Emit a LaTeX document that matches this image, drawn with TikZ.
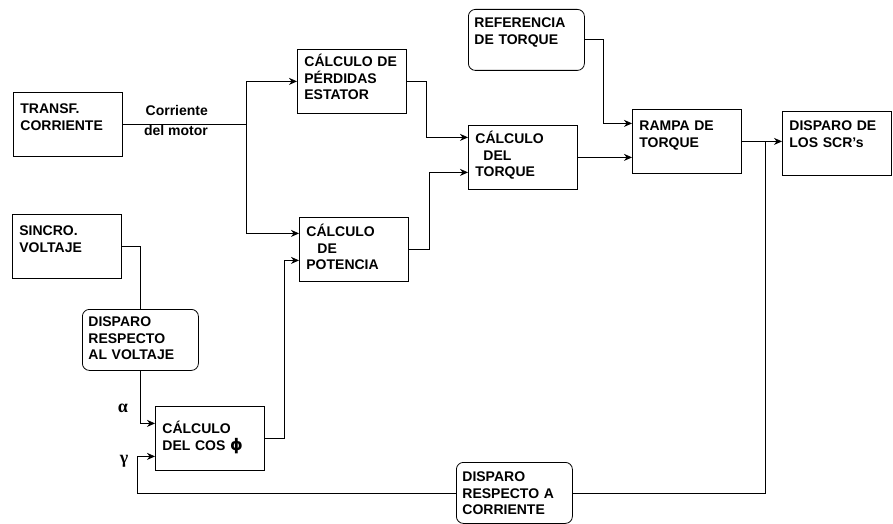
\documentclass[tikz,border=0pt]{standalone}
\usepackage{fontspec}
\setmainfont{Liberation Sans}
\newfontfamily\griego{Liberation Serif}
\newfontfamily\simbolo{DejaVu Sans}
\usetikzlibrary{arrows.meta,positioning,calc}

\begin{document}
\begin{tikzpicture}[
  x=1pt,y=-1pt,
  bloque/.style={draw,line width=0.8pt,anchor=north west,align=left,text width=95pt,inner xsep=7pt,inner ysep=0pt,text height=19pt,text depth=45pt,font=\bfseries\fontsize{14}{16.7}\selectfont},
  redondo/.style={bloque,rounded corners=7pt,text width=104pt,inner xsep=6pt,text height=18pt,text depth=43pt},
  flecha/.style={-{Stealth[length=8pt,width=7pt]},line width=0.8pt},
  linea/.style={line width=0.8pt},
  etiqueta/.style={font=\bfseries\fontsize{14}{16.7}\selectfont,align=right,inner sep=0pt},
  griega/.style={font=\griego\bfseries\fontsize{18}{20}\selectfont,inner sep=0pt},
]
\useasboundingbox (0,0) rectangle (893,524);
\node[bloque,text height=21pt,text depth=43pt] (transf) at (13,92) {TRANSF.\\CORRIENTE};
\node[bloque,text height=17pt,text depth=47pt] (perdidas) at (297,49) {CÁLCULO DE\\PÉRDIDAS\\ESTATOR};
\node[bloque] (potencia) at (299,217) {CÁLCULO\\\hspace*{11pt}DE\\POTENCIA};
\node[bloque,text height=18pt,text depth=46pt] (torque) at (468,125) {CÁLCULO\\\hspace*{8pt}DEL\\TORQUE};
\node[redondo] (referencia) at (468,9) {REFERENCIA\\DE TORQUE};
\node[bloque,text height=21pt,text depth=43pt] (rampa) at (632,109) {RAMPA DE\\TORQUE};
\node[bloque] (scr) at (782,111) {DISPARO DE\\LOS SCR's};
\node[bloque,text height=21pt,text depth=43pt] (sincro) at (12,214) {SINCRO.\\VOLTAJE};
\node[redondo,text height=17pt,text depth=44pt] (voltaje) at (82,309) {DISPARO\\RESPECTO\\AL VOLTAJE};
\node[bloque,text height=27pt,text depth=37pt] (cosphi) at (155,406) {CÁLCULO\\DEL COS {\simbolo\fontsize{16}{17}\selectfont ϕ}};
\node[redondo,text height=19pt,text depth=42pt] (corriente) at (456,462) {DISPARO\\RESPECTO A\\CORRIENTE};
\node[etiqueta] (lcorriente) at (176,120) {Corriente\\[3.3pt]del motor};
\node[griega] (lalfa) at (123,408) {α};
\node[griega] (lgama) at (124,461) {γ};
\coordinate (rama) at ([xshift=124pt]transf.east);
\coordinate (union) at ([xshift=24pt]rampa.east);
\coordinate (gama) at ([xshift=-18pt,yshift=-18pt]cosphi.west);
\draw[linea] (transf.east) -- (rama);
\draw[flecha] (rama) |- (perdidas.west);
\draw[flecha] (rama) |- ([yshift=16pt]potencia.west);
\draw[flecha] (perdidas.east) -- ++(20,0) |- ([yshift=20pt]torque.west);
\draw[flecha] (potencia.east) -- ++(21,0) |- ([yshift=-15pt]torque.west);
\draw[flecha] (referencia.east) -- ++(19,0) |- ([yshift=18pt]rampa.west);
\draw[flecha] (torque.east) -- (torque.east -| rampa.west);
\draw[flecha] (rampa.east) -- (rampa.east -| scr.west);
\draw[linea] (union) |- (corriente.east);
\draw[flecha] (corriente.west) -| (gama) -- (gama -| cosphi.west);
\draw[linea] (sincro.east) -| (voltaje.north);
\draw[flecha] (voltaje.south) |- ([yshift=15pt]cosphi.west);
\draw[flecha] (cosphi.east) -- ++(20,0) |- ([yshift=-11pt]potencia.west);
\end{tikzpicture}
\end{document}
